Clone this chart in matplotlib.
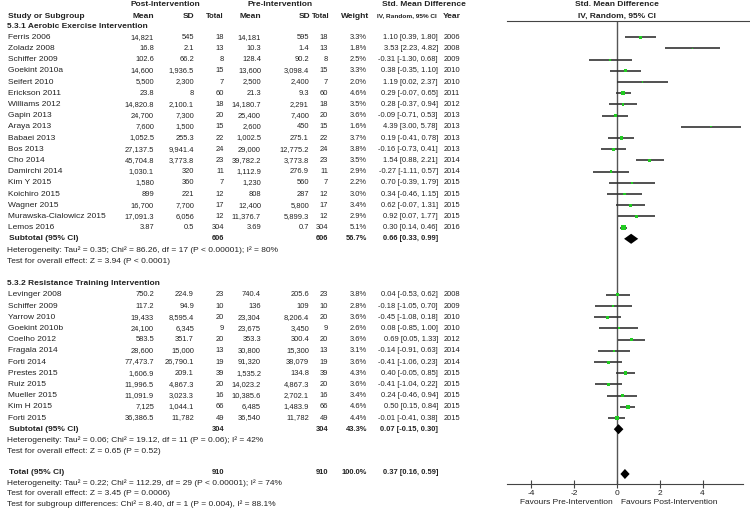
import matplotlib
matplotlib.use("Agg")
import matplotlib.pyplot as plt
from matplotlib import font_manager

plt.rcParams["font.family"] = ["Liberation Sans", "DejaVu Sans"]

W, H = 750, 513
FS = 6.0
TXT = "#222222"
GREEN = "#22cc22"

# narrow face for the numeric columns, if present; otherwise a smaller size
try:
    font_manager.findfont("Liberation Sans Narrow", fallback_to_default=False)
    NUM_FAMILY, NUM_FS = ["Liberation Sans Narrow", "Liberation Sans"], FS
except ValueError:
    NUM_FAMILY, NUM_FS = ["Liberation Sans", "DejaVu Sans"], FS * 0.9

# ---- data -------------------------------------------------------------
aer_names = ["Ferris 2006", "Zoladz 2008", "Schiffer 2009", "Goekint 2010a", "Seifert 2010",
             "Erickson 2011", "Williams 2012", "Gapin 2013", "Araya 2013", "Babaei 2013",
             "Bos 2013", "Cho 2014", "Damirchi 2014", "Kim Y 2015", "Koichiro 2015",
             "Wagner 2015", "Murawska-Cialowicz 2015", "Lemos 2016"]
aer_post_mean = ["14,821", "16.8", "102.6", "14,600", "5,500", "23.8", "14,820.8", "24,700",
                 "7,600", "1,052.5", "27,137.5", "45,704.8", "1,030.1", "1,580", "899",
                 "16,700", "17,091.3", "3.87"]
aer_post_sd = ["545", "2.1", "66.2", "1,936.5", "2,300", "8", "2,100.1", "7,300", "1,500",
               "255.3", "9,941.4", "3,773.8", "320", "360", "221", "7,700", "6,056", "0.5"]
aer_n = [18, 13, 8, 15, 7, 60, 18, 20, 15, 22, 24, 23, 11, 7, 12, 17, 12, 304]
aer_pre_mean = ["14,181", "10.3", "128.4", "13,600", "2,500", "21.3", "14,180.7", "25,400",
                "2,600", "1,002.5", "29,000", "39,782.2", "1,112.9", "1,230", "808",
                "12,400", "11,376.7", "3.69"]
aer_pre_sd = ["595", "1.4", "90.2", "3,098.4", "2,400", "9.3", "2,291", "7,400", "450",
              "275.1", "12,775.2", "3,773.8", "276.9", "560", "287", "5,800", "5,899.3", "0.7"]
aer_weight = [3.3, 1.8, 2.5, 3.3, 2.0, 4.6, 3.5, 3.6, 1.6, 3.7, 3.8, 3.5, 2.9, 2.2, 3.0, 3.4, 2.9, 5.1]
aer_smd = [1.10, 3.53, -0.31, 0.38, 1.19, 0.29, 0.28, -0.09, 4.39, 0.19, -0.16, 1.54, -0.27,
           0.70, 0.34, 0.62, 0.92, 0.30]
aer_lo = [0.39, 2.23, -1.30, -0.35, 0.02, -0.07, -0.37, -0.71, 3.00, -0.41, -0.73, 0.88, -1.11,
          -0.39, -0.46, -0.07, 0.07, 0.14]
aer_hi = [1.80, 4.82, 0.68, 1.10, 2.37, 0.65, 0.94, 0.53, 5.78, 0.78, 0.41, 2.21, 0.57,
          1.79, 1.15, 1.31, 1.77, 0.46]
aer_year = [2006, 2008, 2009, 2010, 2010, 2011, 2012, 2013, 2013, 2013, 2013, 2014, 2014,
            2015, 2015, 2015, 2015, 2016]

res_names = ["Levinger 2008", "Schiffer 2009", "Yarrow 2010", "Goekint 2010b", "Coelho 2012",
             "Fragala 2014", "Forti 2014", "Prestes 2015", "Ruiz 2015", "Mueller 2015",
             "Kim H 2015", "Forti 2015"]
res_post_mean = ["750.2", "117.2", "19,433", "24,100", "583.5", "28,600", "77,473.7", "1,606.9",
                 "11,996.5", "11,091.9", "7,125", "36,386.5"]
res_post_sd = ["224.9", "94.9", "8,595.4", "6,345", "351.7", "15,000", "26,790.1", "209.1",
               "4,867.3", "3,023.3", "1,044.1", "11,782"]
res_n = [23, 10, 20, 9, 20, 13, 19, 39, 20, 16, 66, 49]
res_pre_mean = ["740.4", "136", "23,304", "23,675", "353.3", "30,800", "91,320", "1,535.2",
                "14,023.2", "10,385.6", "6,485", "36,540"]
res_pre_sd = ["205.6", "109", "8,206.4", "3,450", "300.4", "15,300", "38,079", "134.8",
              "4,867.3", "2,702.1", "1,483.9", "11,782"]
res_weight = [3.8, 2.8, 3.6, 2.6, 3.6, 3.1, 3.6, 4.3, 3.6, 3.4, 4.6, 4.4]
res_smd = [0.04, -0.18, -0.45, 0.08, 0.69, -0.14, -0.41, 0.40, -0.41, 0.24, 0.50, -0.01]
res_lo = [-0.53, -1.05, -1.08, -0.85, 0.05, -0.91, -1.06, -0.05, -1.04, -0.46, 0.15, -0.41]
res_hi = [0.62, 0.70, 0.18, 1.00, 1.33, 0.63, 0.23, 0.85, 0.22, 0.94, 0.84, 0.38]
res_year = [2008, 2009, 2010, 2010, 2012, 2014, 2014, 2015, 2015, 2015, 2015, 2015]

# pooled estimates: label, n, weight, smd, lo, hi
pooled_aer = ["Subtotal (95% CI)", 606, "56.7%", 0.66, 0.33, 0.99]
pooled_res = ["Subtotal (95% CI)", 304, "43.3%", 0.07, -0.15, 0.30]
pooled_all = ["Total (95% CI)", 910, "100.0%", 0.37, 0.16, 0.59]

notes_aer = ["Heterogeneity: Tau\u00b2 = 0.35; Chi\u00b2 = 86.26, df = 17 (P < 0.00001); I\u00b2 = 80%",
             "Test for overall effect: Z = 3.94 (P < 0.0001)"]
notes_res = ["Heterogeneity: Tau\u00b2 = 0.06; Chi\u00b2 = 19.12, df = 11 (P = 0.06); I\u00b2 = 42%",
             "Test for overall effect: Z = 0.65 (P = 0.52)"]
notes_all = ["Heterogeneity: Tau\u00b2 = 0.22; Chi\u00b2 = 112.29, df = 29 (P < 0.00001); I\u00b2 = 74%",
             "Test for overall effect: Z = 3.45 (P = 0.0006)",
             "Test for subgroup differences: Chi\u00b2 = 8.40, df = 1 (P = 0.004), I\u00b2 = 88.1%"]

x_ticks = [-4, -2, 0, 2, 4]

# ---- layout -------------------------------------------------------------
fig = plt.figure(figsize=(W / 100, H / 100), dpi=100)


def row_px(r):
    if r <= 38:
        return 26.0 + 11.2 * r
    return 472.3 + 10.7 * (r - 40)


def put(x, y, s, ha="left", bold=False, num=False, size=None):
    fs = size if size else (NUM_FS if num else FS)
    fig.text(x / W, 1 - y / H, s, ha=ha, va="center", fontsize=fs, color=TXT,
             family=NUM_FAMILY if num else ["Liberation Sans", "DejaVu Sans"],
             fontweight="bold" if bold else "normal")


# column anchors (pixels): right-aligned numbers, left-aligned name/year
COL_NAME, COL_PM, COL_PSD, COL_PN = 8, 154, 194, 224
COL_RM, COL_RSD, COL_RN, COL_W, COL_CI, COL_YR = 261, 309, 328, 367, 438, 444

put(165, 5, "Post-Intervention", ha="center", bold=True)
put(280, 5, "Pre-Intervention", ha="center", bold=True)
put(382, 5, "Std. Mean Difference", bold=True)
put(617, 5, "Std. Mean Difference", ha="center", bold=True)
put(COL_NAME, 16, "Study or Subgroup", bold=True)
put(COL_PM, 16, "Mean", ha="right", bold=True)
put(COL_PSD, 16, "SD", ha="right", bold=True)
put(COL_PN, 16, "Total", ha="right", bold=True, num=True)
put(COL_RM, 16, "Mean", ha="right", bold=True)
put(COL_RSD + 1, 16, "SD", ha="right", bold=True)
put(COL_RN + 2, 16, "Total", ha="right", bold=True, num=True)
put(COL_W + 2, 16, "Weight", ha="right", bold=True)
put(COL_CI - 1, 16, "IV, Random, 95% CI", ha="right", bold=True, num=True, size=FS * 0.78)
put(COL_YR - 1, 16, "Year", bold=True)
put(617, 16, "IV, Random, 95% CI", ha="center", bold=True)

ax = fig.add_axes([507 / W, 1 - 484 / H, 243 / W, (484 - 21) / H])
ax.set_xlim((507 - 617) / 21.4, (750 - 617) / 21.4)
ax.set_ylim((484 - 26.0) / 11.2, (21 - 26.0) / 11.2)
ax.axvline(0, color="#555555", lw=1.0, zorder=1)


def study_block(start, names, pm, psd, n, rm, rsd, w, smd, lo, hi, yr):
    rows = [start + i for i in range(len(names))]
    for i, r in enumerate(rows):
        y = row_px(r)
        put(COL_NAME, y, names[i])
        put(COL_PM, y, pm[i], ha="right", num=True)
        put(COL_PSD, y, psd[i], ha="right", num=True)
        put(COL_PN, y, str(n[i]), ha="right", num=True)
        put(COL_RM, y, rm[i], ha="right", num=True)
        put(COL_RSD, y, rsd[i], ha="right", num=True)
        put(COL_RN, y, str(n[i]), ha="right", num=True)
        put(COL_W, y, f"{w[i]:.1f}%", ha="right", num=True)
        put(COL_CI, y, f"{smd[i]:.2f} [{lo[i]:.2f}, {hi[i]:.2f}]", ha="right", num=True)
        put(COL_YR, y, str(yr[i]), num=True)
    ax.hlines(rows, lo, hi, color="#333333", lw=1.2, zorder=2)
    ax.scatter(smd, rows, s=[(0.6 * v) ** 2 for v in w], marker="s",
               color=GREEN, linewidths=0, zorder=3)


def pooled_row(r, p):
    y = row_px(r)
    put(COL_NAME + 1, y, p[0], bold=True)
    put(COL_PN, y, str(p[1]), ha="right", bold=True, num=True)
    put(COL_RN, y, str(p[1]), ha="right", bold=True, num=True)
    put(COL_W, y, p[2], ha="right", bold=True, num=True)
    put(COL_CI, y, f"{p[3]:.2f} [{p[4]:.2f}, {p[5]:.2f}]", ha="right", bold=True, num=True)
    est, lo, hi = p[3], p[4], p[5]
    ax.fill([lo, est, hi, est], [r, r - 0.45, r, r + 0.45], color="black", lw=0, zorder=4)


put(7, row_px(0), "5.3.1 Aerobic Exercise Intervention", bold=True)
study_block(1, aer_names, aer_post_mean, aer_post_sd, aer_n, aer_pre_mean, aer_pre_sd,
            aer_weight, aer_smd, aer_lo, aer_hi, aer_year)
pooled_row(19, pooled_aer)
for k, s in enumerate(notes_aer):
    put(7, row_px(20 + k), s)

put(7, row_px(23), "5.3.2 Resistance Training Intervention", bold=True)
study_block(24, res_names, res_post_mean, res_post_sd, res_n, res_pre_mean, res_pre_sd,
            res_weight, res_smd, res_lo, res_hi, res_year)
pooled_row(36, pooled_res)
for k, s in enumerate(notes_res):
    put(7, row_px(37 + k), s)

pooled_row(40, pooled_all)
for k, s in enumerate(notes_all):
    put(7, row_px(41 + k), s)

# axis styling
for side in ["left", "right"]:
    ax.spines[side].set_visible(False)
ax.spines["top"].set_color("#444444")
ax.spines["bottom"].set_color("#444444")
ax.spines["bottom"].set_bounds(ax.get_xlim()[0], (743 - 617) / 21.4)
ax.set_yticks([])
ax.set_xticks(x_ticks)
ax.set_xticklabels([str(t) for t in x_ticks])
ax.tick_params(axis="x", direction="inout", length=6, width=0.8, color="#444444",
               labelsize=FS, labelcolor=TXT, pad=1)
ax.patch.set_visible(False)

put(613, 502, "Favours Pre-Intervention", ha="right")
put(621, 502, "Favours Post-Intervention")

fig.savefig("out.png", dpi=100)
